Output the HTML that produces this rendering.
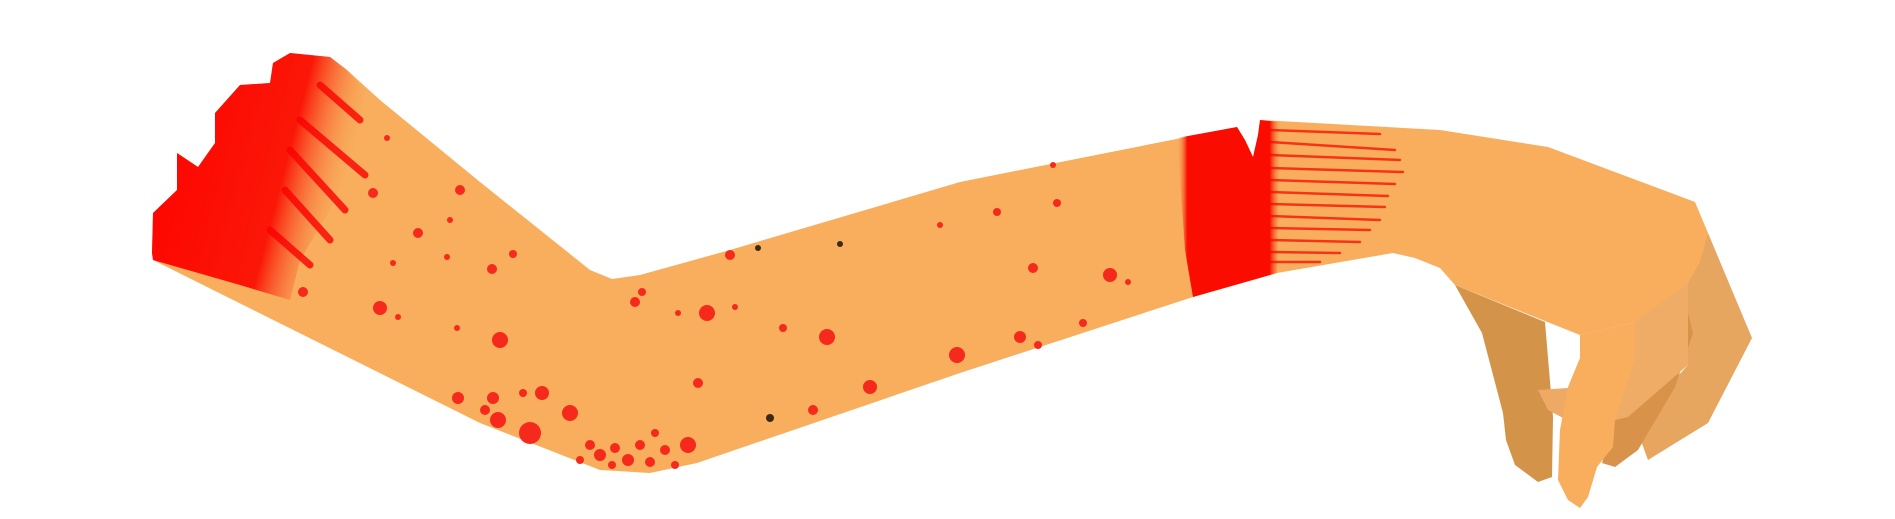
<!DOCTYPE html>
<html><head><meta charset="utf-8"><style>
html,body{margin:0;padding:0;background:#fff;width:1895px;height:519px;overflow:hidden}
svg{display:block}
</style></head><body>
<svg width="1895" height="519" viewBox="0 0 1895 519">
<defs>
<linearGradient id="leftBlood" x1="0" y1="0" x2="1" y2="0.3">
<stop offset="0" stop-color="#ff0000"/><stop offset="0.7" stop-color="#fb0a00" stop-opacity="0.92"/><stop offset="1" stop-color="#f8ae5c" stop-opacity="0"/>
</linearGradient>
<linearGradient id="midBlood" x1="0" y1="0" x2="1" y2="0">
<stop offset="0" stop-color="#f8ae5c" stop-opacity="0"/><stop offset="0.1" stop-color="#fa0d00"/><stop offset="0.9" stop-color="#fa0d00"/><stop offset="1" stop-color="#f8ae5c" stop-opacity="0.3"/>
</linearGradient>
</defs>
<path d="M1688 283 L1708 233 L1752 338 L1708 423 L1648 460 L1637 430 L1642 415 L1688 365 Z" fill="#e6a660"/>
<path d="M1615 420 L1602 463 L1615 467 L1638 450 L1675 387 L1693 333 L1688 313 Z" fill="#d8924a"/>
<path d="M1455 285 L1482 333 L1503 413 L1506 440 L1515 465 L1538 482 L1552 477 L1553 417 L1545 322 Z" fill="#d39349"/>
<path d="M273 63 L290 53 L330 57 L347 70 L380 100 L480 182 L590 270 L612 279 L640 275 L730 250 L960 182 L1237 127 L1245 140 L1253 157 L1258 135 L1260 120 L1440 130 L1548 147 L1695 202 L1708 233 L1700 262 L1688 283 L1660 310 L1635 322 L1580 335 L1455 285 L1440 268 L1415 258 L1393 253 L1277 273 L1193 297 L960 373 L697 463 L650 473 L600 470 L480 423 L153 260 L152 253 L153 213 L177 190 L177 153 L198 167 L215 143 L215 113 L240 85 L270 83 Z" fill="#f8ae5c"/>
<path d="M1635 322 L1688 283 L1688 365 L1628 417 L1615 420 L1622 380 Z" fill="#eeac66"/>
<path d="M1538 390 L1568 388 L1563 418 L1548 410 Z" fill="#eeaa64"/>
<path d="M1580 335 L1635 322 L1635 360 L1615 420 L1613 447 L1597 467 L1588 497 L1580 508 L1568 500 L1558 480 L1560 430 L1568 387 L1580 358 Z" fill="#f8ae5c"/>
<path d="M273 63 L290 53 L330 57 L347 70 L365 90 L360 120 L350 160 L330 210 L300 260 L290 300 L240 285 L153 260 L152 253 L153 213 L177 190 L177 153 L198 167 L215 143 L215 113 L240 85 L270 83 Z" fill="url(#leftBlood)"/>
<g stroke="#fb0000" stroke-width="7" stroke-linecap="round" opacity="0.8">
<line x1="300" y1="120" x2="365" y2="175"/><line x1="290" y1="150" x2="345" y2="210"/><line x1="285" y1="190" x2="330" y2="240"/><line x1="320" y1="85" x2="360" y2="120"/><line x1="270" y1="230" x2="310" y2="265"/>
</g>
<path d="M1177 138 L1237 127 L1245 140 L1253 157 L1258 135 L1260 120 L1280 122 L1277 273 L1193 297 L1185 250 Z" fill="url(#midBlood)"/>
<g stroke="#f70a00" stroke-width="2.5" stroke-linecap="round" opacity="0.75">
<line x1="1270" y1="130" x2="1380" y2="134"/><line x1="1270" y1="142" x2="1395" y2="150"/><line x1="1270" y1="155" x2="1400" y2="160"/><line x1="1270" y1="168" x2="1403" y2="172"/><line x1="1270" y1="180" x2="1395" y2="184"/><line x1="1270" y1="192" x2="1388" y2="196"/><line x1="1270" y1="204" x2="1385" y2="207"/><line x1="1270" y1="216" x2="1380" y2="220"/><line x1="1270" y1="228" x2="1370" y2="230"/><line x1="1270" y1="240" x2="1360" y2="242"/><line x1="1270" y1="252" x2="1340" y2="253"/><line x1="1270" y1="262" x2="1320" y2="262"/>
</g>
<g fill="#f62a1c">
<circle cx="707" cy="313" r="8"/><circle cx="827" cy="337" r="8"/><circle cx="500" cy="340" r="8"/><circle cx="570" cy="413" r="8"/><circle cx="530" cy="433" r="11"/><circle cx="870" cy="387" r="7"/><circle cx="957" cy="355" r="8"/><circle cx="635" cy="302" r="5"/><circle cx="642" cy="292" r="4"/><circle cx="513" cy="254" r="4"/><circle cx="492" cy="269" r="5"/><circle cx="813" cy="410" r="5"/><circle cx="698" cy="383" r="5"/><circle cx="542" cy="393" r="7"/><circle cx="493" cy="398" r="6"/><circle cx="523" cy="393" r="4"/><circle cx="783" cy="328" r="4"/><circle cx="730" cy="255" r="5"/><circle cx="735" cy="307" r="3"/><circle cx="678" cy="313" r="3"/><circle cx="940" cy="225" r="3"/><circle cx="373" cy="193" r="5"/><circle cx="303" cy="292" r="5"/><circle cx="380" cy="308" r="7"/><circle cx="398" cy="317" r="3"/><circle cx="460" cy="190" r="5"/><circle cx="418" cy="233" r="5"/><circle cx="458" cy="398" r="6"/><circle cx="447" cy="257" r="3"/><circle cx="393" cy="263" r="3"/><circle cx="457" cy="328" r="3"/><circle cx="1020" cy="337" r="6"/><circle cx="1038" cy="345" r="4"/><circle cx="1083" cy="323" r="4"/><circle cx="1110" cy="275" r="7"/><circle cx="1033" cy="268" r="5"/><circle cx="1057" cy="203" r="4"/><circle cx="1053" cy="165" r="3"/><circle cx="997" cy="212" r="4"/><circle cx="1128" cy="282" r="3"/><circle cx="387" cy="138" r="3"/><circle cx="450" cy="220" r="3"/>
<circle cx="590" cy="445" r="5"/><circle cx="600" cy="455" r="6"/><circle cx="615" cy="448" r="5"/><circle cx="628" cy="460" r="6"/><circle cx="640" cy="445" r="5"/><circle cx="650" cy="462" r="5"/><circle cx="665" cy="450" r="5"/><circle cx="688" cy="445" r="8"/><circle cx="675" cy="465" r="4"/><circle cx="655" cy="433" r="4"/><circle cx="612" cy="465" r="4"/><circle cx="580" cy="460" r="4"/><circle cx="498" cy="420" r="8"/><circle cx="485" cy="410" r="5"/>
</g>
<g fill="#3a2a14">
<circle cx="758" cy="248" r="3"/><circle cx="840" cy="244" r="3"/><circle cx="770" cy="418" r="4"/>
</g>
</svg>
</body></html>
